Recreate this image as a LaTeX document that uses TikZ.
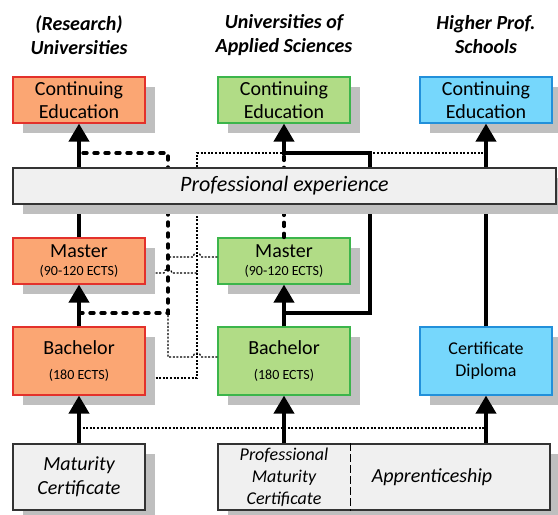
\documentclass[tikz,border=0pt]{standalone}
\usepackage{fontspec}
\setmainfont{Carlito}
\usepackage{tikz}
\usetikzlibrary{arrows.meta,shapes,positioning,shadows,calc}

\definecolor{uniorange}{HTML}{FBA673}
\definecolor{unired}{HTML}{E3312B}
\definecolor{uasgreen}{HTML}{B1DC86}
\definecolor{uasline}{HTML}{3CB54B}
\definecolor{hpsblue}{HTML}{76D7FC}
\definecolor{hpsline}{HTML}{2290DA}
\definecolor{boxgray}{HTML}{F0F0F0}
\definecolor{shadowgray}{HTML}{BFBFBF}

\tikzset{
  box/.style={draw, line width=0.6pt, minimum width=66pt, minimum height=23pt, inner sep=1pt,
    align=center, font=\fontsize{10}{11.5}\selectfont,
    general shadow={fill=shadowgray, shadow xshift=5pt, shadow yshift=-5pt}},
  uni/.style={box, fill=uniorange, draw=unired},
  uas/.style={box, fill=uasgreen, draw=uasline},
  hps/.style={box, fill=hpsblue, draw=hpsline},
  base/.style={box, fill=boxgray, draw=black!80, minimum height=33pt,
    font=\fontsize{10}{12}\selectfont\itshape},
  head/.style={align=center, font=\fontsize{10}{12}\selectfont\bfseries\itshape},
  flow/.style={line width=2pt, -{Triangle[width=10pt,length=9pt]}},
  bypass/.style={line width=1.7pt, dash pattern=on 2pt off 3.5pt, line cap=round},
  cross/.style={line width=0.6pt, dash pattern=on 1pt off 0.8pt},
}

\newcommand{\ects}[1]{{\fontsize{7}{8}\selectfont #1}}

\begin{document}
\begin{tikzpicture}[x=0.5pt, y=-0.5pt]
        \useasboundingbox (0,0) rectangle (558,515);

        % column heads
        \node[head] (hdUni) at (79,35) {(Research)\\Universities};
        \node[head] (hdUas) at (284,35) {Universities of\\Applied Sciences};
        \node[head] (hdHps) at (486,35) {Higher Prof.\\Schools};

        % continuing education
        \node[uni] (ceA) at (79,100) {Continuing\\Education};
        \node[uas] (ceB) at (284,100) {Continuing\\Education};
        \node[hps] (ceC) at (486,100) {Continuing\\Education};

        % master
        \node[uni] (masA) at (79,261) {Master\\[-2.5pt]\ects{(90-120 ECTS)}};
        \node[uas] (masB) at (284,261) {Master\\[-2.5pt]\ects{(90-120 ECTS)}};

        % bachelor and diploma
        \node[uni, minimum height=34pt] (bachA) at (79,361) {Bachelor\\[1pt]\ects{(180 ECTS)}};
        \node[uas, minimum height=34pt] (bachB) at (284,361) {Bachelor\\[1pt]\ects{(180 ECTS)}};
        \node[hps, minimum height=34pt, font=\fontsize{9}{11}\selectfont] (dipC) at (486,361) {Certificate\\Diploma};

        % entry level
        \node[base] (matA) at (79,477) {Maturity\\Certificate};
        \node[base, minimum width=166pt] (voc) at (384,477) {};
        \node[align=center, minimum width=66pt, inner sep=0pt, font=\fontsize{9}{11}\selectfont\itshape] (pmB) at (284,477) {Professional\\Maturity\\Certificate};
        \node[font=\fontsize{10}{12}\selectfont\itshape] (appC) at (432,477) {Apprenticeship};
        \draw[line width=0.6pt, dash pattern=on 4pt off 1.5pt] (pmB.east |- voc.north) -- (pmB.east |- voc.south);

        % routing lanes
        \coordinate (topLane) at (0,153);
        \coordinate (midLane) at (0,313);
        \coordinate (lowLane) at (0,428);
        \coordinate (laneA) at (168,0);
        \coordinate (laneX) at (197,0);
        \coordinate (laneB) at (370,0);

        % thin dotted crossovers
        \draw[cross] (matA.north |- lowLane) -- (dipC.south |- lowLane);
        \draw[cross] ($(bachA.east)+(10,17)$) -| (laneX |- topLane) -- (ceC.south |- topLane);
        \draw[cross] ($(masA.east)+(10,12)$) -- ($(laneA |- masA.east)+(-4,12)$) arc (180:360:4) -- ($(laneX |- masA.east)+(0,12)$);
        \draw[cross] ($(masB.west)+(0,-4)$) -- ($(laneX |- masB.west)+(4,-4)$) arc (0:-180:4) -- ($(laneA |- masB.west)+(0,-4)$);
        \draw[cross] ($(bachB.west)+(0,-4)$) -- ($(laneX |- bachB.west)+(4,-4)$) arc (0:-180:4) -- ($(laneA |- bachB.west)+(0,-4)$) -- (laneA |- midLane);

        % thick dashed shortcuts
        \draw[bypass] (bachA.north |- midLane) -- (laneA |- midLane) -- (laneA |- topLane) -- (ceA.south |- topLane);
        \draw[bypass] (masB.north) -- (ceB.south |- topLane);

        % regular paths
        \draw[flow] (matA) -- (bachA);
        \draw[flow] (bachA) -- (masA);
        \draw[flow] (masA) -- (ceA);
        \draw[flow] (bachB.south |- voc.north) -- (bachB);
        \draw[flow] (bachB) -- (masB);
        \draw[flow] (bachB.north) |- (laneB |- midLane) -- (laneB |- topLane) -- (ceB.south |- topLane) -- (ceB.south);
        \draw[flow] (dipC.south |- voc.north) -- (dipC);
        \draw[flow] (dipC) -- (ceC);

        % experience bar on top of the paths
        \node[base, minimum width=271.5pt, minimum height=18pt, font=\fontsize{11}{13}\selectfont\itshape] (profExp) at (284.5,186) {Professional experience};
    \end{tikzpicture}
\end{document}
